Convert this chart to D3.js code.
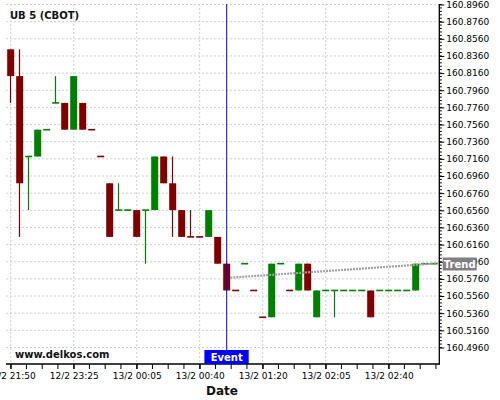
<!DOCTYPE html>
<html><head><meta charset="utf-8">
<script src="https://cdn.jsdelivr.net/npm/d3@7"></script>
<style>body{margin:0;background:#fff}svg{display:block}text{font-family:"DejaVu Sans",sans-serif}</style>
</head><body><svg id="c" width="500" height="400"></svg>
<script>
const opens = [160.84375,160.8125,160.71875,160.71875,160.75,160.78125,160.78125,160.75,160.78125,160.75,
  160.71875,160.6875,160.65625,160.65625,160.65625,160.65625,160.65625,160.71875,160.6875,160.65625,
  160.625,160.625,160.625,160.625,160.59375,160.5625,160.59375,160.5625,160.53125,160.53125,
  160.59375,160.5625,160.5625,160.59375,160.53125,160.5625,160.5625,160.5625,160.5625,160.5625,
  160.5625,160.5625,160.5625,160.5625,160.5625,160.5625,160.59375,160.59375];
const closes = [160.8125,160.6875,160.71875,160.75,160.75,160.78125,160.75,160.8125,160.75,160.75,
  160.71875,160.625,160.65625,160.65625,160.625,160.65625,160.71875,160.6875,160.65625,160.625,
  160.625,160.625,160.65625,160.59375,160.5625,160.5625,160.59375,160.5625,160.53125,160.59375,
  160.59375,160.5625,160.59375,160.5625,160.5625,160.5625,160.5625,160.5625,160.5625,160.5625,
  160.53125,160.5625,160.5625,160.5625,160.5625,160.59375,160.59375,160.59375];
const highs = [160.84375,160.84375,160.71875,160.75,160.75,160.8125,160.78125,160.8125,160.78125,160.75,
  160.71875,160.6875,160.6875,160.65625,160.65625,160.65625,160.71875,160.71875,160.71875,160.65625,
  160.65625,160.625,160.65625,160.625,160.59375,160.5625,160.59375,160.5625,160.53125,160.59375,
  160.59375,160.5625,160.59375,160.59375,160.5625,160.5625,160.5625,160.5625,160.5625,160.5625,
  160.5625,160.5625,160.5625,160.5625,160.5625,160.59375,160.59375,160.59375];
const lows = [160.78125,160.625,160.65625,160.71875,160.75,160.78125,160.75,160.75,160.75,160.75,
  160.71875,160.625,160.65625,160.65625,160.625,160.59375,160.65625,160.6875,160.625,160.625,
  160.625,160.625,160.625,160.59375,160.5625,160.5625,160.59375,160.5625,160.53125,160.53125,
  160.59375,160.5625,160.5625,160.5625,160.53125,160.5625,160.53125,160.5625,160.5625,160.5625,
  160.53125,160.5625,160.5625,160.5625,160.5625,160.5625,160.59375,160.59375];
const upFlags = [0,0,1,1,1,1,0,1,0,0, 0,0,1,1,0,1,1,0,0,0, 0,0,1,0,0,0,1,0,0,1,
  1,0,1,0,1,1,1,1,1,1, 0,1,1,1,1,1,1,1];
const xTickIndex = [0,7,14,21,28,35,42];
const xTickLabels = ["12/2 21:50","12/2 23:25","13/2 00:05","13/2 00:40","13/2 01:20","13/2 02:05","13/2 02:40"];
const yTickValues = [160.4960,160.5160,160.5360,160.5560,160.5760,160.5960,160.6160,160.6360,160.6560,160.6760,
  160.6960,160.7160,160.7360,160.7560,160.7760,160.7960,160.8160,160.8360,160.8560,160.8760,160.8960];
const yTickLabels = yTickValues.map(v => v.toFixed(4));
const eventIndex = 24;
const trendIndex = [24.4, 47.5];
const trendValues = [160.5774, 160.5942];
const title = "UB 5 (CBOT)";

const svg = d3.select("#c");
const L = 6, R = 439.3, T = 4, B = 364;
const x = d3.scaleLinear().domain([-0.5, 47.6]).range([6.2, 439.1]);
const y = d3.scaleLinear().domain([160.4960, 160.8960]).range([347.5, 4.5]);
const RED = "#800000", GREEN = "#008000";

// grid
svg.append("g").selectAll("line").data(yTickValues).join("line")
  .attr("x1", L).attr("x2", R).attr("y1", d => y(d)).attr("y2", d => y(d))
  .attr("stroke", "#cfcfcf").attr("stroke-dasharray", "2,2");
svg.append("g").selectAll("line").data(xTickIndex).join("line")
  .attr("x1", d => x(d)).attr("x2", d => x(d)).attr("y1", T).attr("y2", B)
  .attr("stroke", "#cfcfcf").attr("stroke-dasharray", "2,2");

// candles
const idx = d3.range(opens.length);
const cg = svg.append("g");
cg.selectAll("line").data(idx).join("line")
  .attr("x1", i => Math.round(x(i)) - 0.5).attr("x2", i => Math.round(x(i)) - 0.5)
  .attr("y1", i => y(highs[i])).attr("y2", i => y(lows[i]))
  .attr("stroke", i => upFlags[i] ? GREEN : RED).attr("stroke-width", 1.2);
cg.selectAll("rect").data(idx).join("rect")
  .attr("x", i => x(i) - 3.5).attr("width", 7)
  .attr("y", i => Math.min(y(opens[i]), y(closes[i])) - (opens[i] === closes[i] ? 0.8 : 0))
  .attr("height", i => Math.max(1.6, Math.abs(y(opens[i]) - y(closes[i]))))
  .attr("fill", i => upFlags[i] ? GREEN : RED);

// trend
svg.append("line")
  .attr("x1", x(trendIndex[0])).attr("x2", x(trendIndex[1]))
  .attr("y1", y(trendValues[0])).attr("y2", y(trendValues[1]))
  .attr("stroke", "#a0a0a0").attr("stroke-width", 2.2).attr("stroke-dasharray", "2,1");

// event line
svg.append("line").attr("x1", x(eventIndex)).attr("x2", x(eventIndex))
  .attr("y1", T).attr("y2", 350).attr("stroke", "#0000ff").attr("stroke-width", 1);

// axes
const yAxis = d3.axisRight(y).tickValues(yTickValues).tickFormat((d, i) => yTickLabels[i]).tickSize(5).tickPadding(2);
const ya = svg.append("g").attr("transform", `translate(${R},0)`).call(yAxis);
ya.select(".domain").remove();
ya.selectAll("text").attr("font-size", 9).attr("fill", "#000").attr("font-family", "DejaVu Sans");
ya.selectAll("line").attr("stroke", "#000");
// minor y ticks
const minorY = d3.range(0, 101).map(k => 160.4960 + k * 0.004).filter(v => y(v) >= T && y(v) <= B);
svg.append("g").selectAll("line").data(minorY).join("line")
  .attr("x1", R).attr("x2", R + 2.5).attr("y1", d => y(d)).attr("y2", d => y(d)).attr("stroke", "#000");
svg.append("line").attr("x1", R).attr("x2", R).attr("y1", T).attr("y2", B + 0.5).attr("stroke", "#000").attr("stroke-width", 1.3);

const xAxis = d3.axisBottom(x).tickValues(xTickIndex).tickFormat((d, i) => xTickLabels[i]).tickSize(5).tickPadding(4);
const xa = svg.append("g").attr("transform", `translate(0,${B})`).call(xAxis);
xa.select(".domain").remove();
xa.selectAll("text").attr("font-size", 9).attr("fill", "#000").attr("font-family", "DejaVu Sans");
xa.selectAll("line").attr("stroke", "#000");
const minorX = d3.range(-1, 30).map(k => k * 1.75).filter(v => x(v) >= L && x(v) <= R);
svg.append("g").selectAll("line").data(minorX).join("line")
  .attr("x1", d => x(d)).attr("x2", d => x(d)).attr("y1", B).attr("y2", B + 5).attr("stroke", "#000");
svg.append("line").attr("x1", L).attr("x2", R + 0.6).attr("y1", B).attr("y2", B).attr("stroke", "#000").attr("stroke-width", 1.3);

// trend label
const ty = y(trendValues[1]);
svg.append("rect").attr("x", 442.7).attr("y", ty - 5.8).attr("width", 34).attr("height", 13).attr("fill", "#808080");
svg.append("text").attr("x", 459.7).attr("y", ty + 4.5).attr("text-anchor", "middle")
  .attr("font-size", 10).attr("font-weight", "bold").attr("fill", "#fff").text("Trend");

// event label
const ex = x(eventIndex);
svg.append("rect").attr("x", ex - 22.3).attr("y", 350).attr("width", 44.3).attr("height", 14).attr("fill", "#0000ff");
svg.append("text").attr("x", ex).attr("y", 361).attr("text-anchor", "middle")
  .attr("font-size", 10).attr("font-weight", "bold").attr("fill", "#fff").text("Event");

// texts
svg.append("text").attr("x", 10).attr("y", 19.3).attr("font-size", 10).attr("font-weight", "bold").attr("fill", "#111").text(title);
svg.append("text").attr("x", 15).attr("y", 357.5).attr("font-size", 10).attr("font-weight", "bold").attr("fill", "#111").text("www.delkos.com");
svg.append("text").attr("x", 222).attr("y", 394.5).attr("text-anchor", "middle").attr("font-size", 12).attr("font-weight", "bold").attr("fill", "#111").text("Date");
</script></body></html>
